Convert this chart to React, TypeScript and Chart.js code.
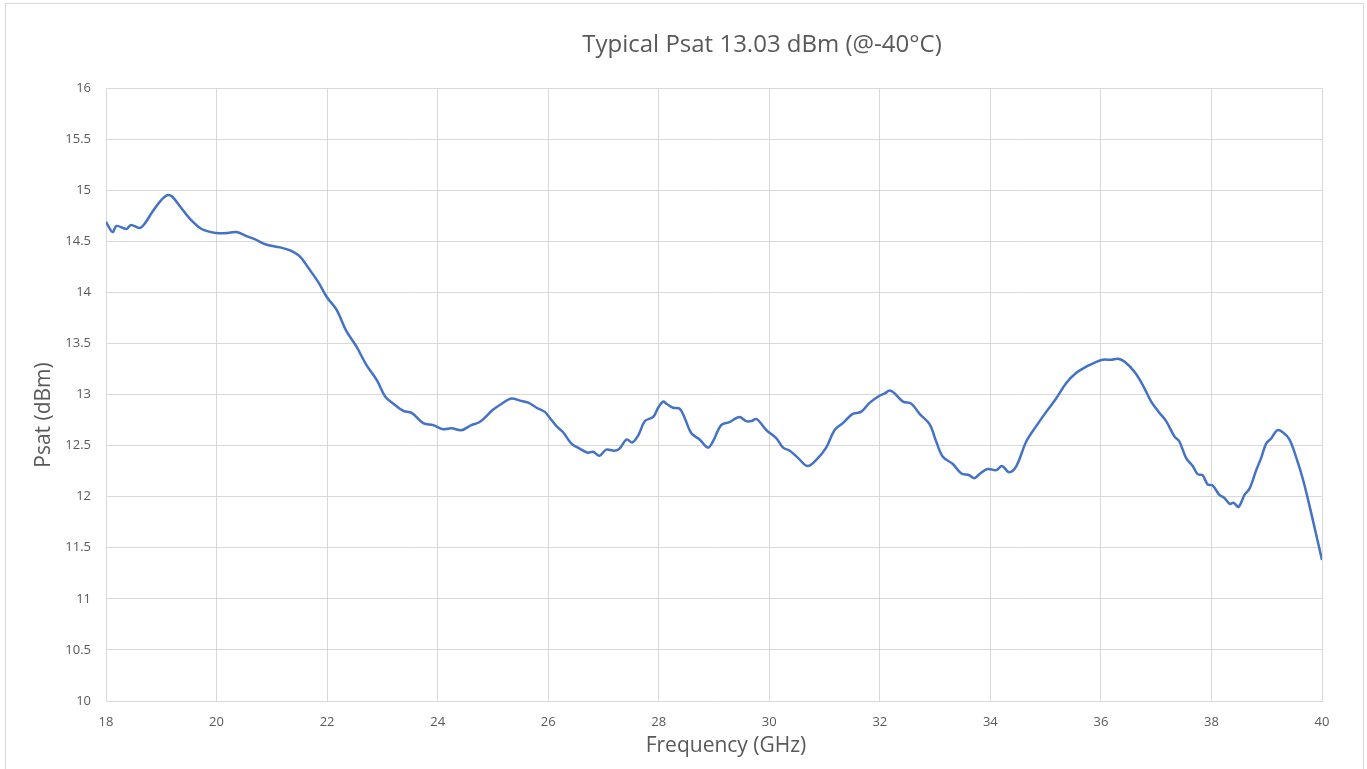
import React, { useEffect, useRef } from "react";
import { Chart, registerables } from "chart.js";

Chart.register(...registerables);

const frequencyGHz = [
  18.0, 18.12, 18.19, 18.37, 18.45, 18.61, 18.71, 18.83, 18.98, 19.1, 19.19, 19.34, 19.52, 19.73,
  20.0, 20.18, 20.36, 20.54, 20.69, 20.88, 21.15, 21.33, 21.51, 21.66, 21.84, 22.0, 22.17, 22.35,
  22.53, 22.71, 22.9, 23.05, 23.2, 23.38, 23.53, 23.74, 23.92, 24.1, 24.25, 24.43, 24.61, 24.76,
  25.0, 25.16, 25.33, 25.49, 25.64, 25.79, 25.94, 26.03, 26.15, 26.27, 26.42, 26.57, 26.72, 26.81,
  26.93, 27.05, 27.2, 27.29, 27.42, 27.52, 27.63, 27.75, 27.9, 27.99, 28.08, 28.14, 28.26, 28.38,
  28.47, 28.59, 28.74, 28.89, 28.98, 29.13, 29.28, 29.46, 29.58, 29.68, 29.77, 29.95, 30.13, 30.25,
  30.37, 30.52, 30.69, 30.85, 31.03, 31.18, 31.33, 31.51, 31.66, 31.82, 32.0, 32.09, 32.18, 32.27,
  32.42, 32.57, 32.72, 32.9, 33.02, 33.14, 33.32, 33.47, 33.62, 33.71, 33.8, 33.95, 34.11, 34.21,
  34.34, 34.47, 34.65, 34.83, 35.01, 35.19, 35.37, 35.55, 35.76, 35.88, 36.03, 36.19, 36.31, 36.43,
  36.61, 36.76, 36.91, 37.06, 37.18, 37.33, 37.42, 37.54, 37.66, 37.75, 37.84, 37.93, 38.02, 38.14,
  38.23, 38.33, 38.4, 38.49, 38.6, 38.69, 38.81, 38.9, 38.99, 39.08, 39.19, 39.29, 39.41, 39.53,
  39.65, 39.77, 39.89, 40.0,
];

const psatDbm = [
  14.69, 14.59, 14.65, 14.62, 14.66, 14.63, 14.68, 14.78, 14.89, 14.95, 14.94, 14.84, 14.72, 14.62,
  14.58, 14.58, 14.59, 14.55, 14.52, 14.47, 14.44, 14.41, 14.35, 14.24, 14.1, 13.95, 13.83, 13.62,
  13.47, 13.29, 13.14, 12.98, 12.91, 12.84, 12.82, 12.72, 12.7, 12.66, 12.67, 12.65, 12.7, 12.73,
  12.85, 12.91, 12.96, 12.94, 12.92, 12.87, 12.83, 12.77, 12.69, 12.63, 12.52, 12.47, 12.43, 12.44,
  12.4, 12.46, 12.45, 12.47, 12.56, 12.53, 12.6, 12.74, 12.78, 12.87, 12.93, 12.91, 12.87, 12.86,
  12.77, 12.62, 12.56, 12.48, 12.54, 12.7, 12.73, 12.78, 12.74, 12.74, 12.76, 12.65, 12.57, 12.48,
  12.45, 12.38, 12.3, 12.36, 12.48, 12.65, 12.72, 12.81, 12.83, 12.92, 12.99, 13.01, 13.04, 13.01,
  12.93, 12.91, 12.81, 12.71, 12.54, 12.39, 12.32, 12.23, 12.21, 12.18, 12.22, 12.27, 12.26, 12.3,
  12.24, 12.3, 12.54, 12.69, 12.83, 12.96, 13.11, 13.21, 13.28, 13.31, 13.34, 13.34, 13.35, 13.32,
  13.22, 13.09, 12.93, 12.82, 12.74, 12.59, 12.54, 12.38, 12.3, 12.22, 12.21, 12.12, 12.11, 12.02,
  11.99, 11.93, 11.94, 11.9, 12.02, 12.08, 12.26, 12.38, 12.52, 12.57, 12.65, 12.63, 12.56, 12.39,
  12.18, 11.92, 11.64, 11.38,
];

const xTickValues = [18, 20, 22, 24, 26, 28, 30, 32, 34, 36, 38, 40];
const xTickLabels = ["18", "20", "22", "24", "26", "28", "30", "32", "34", "36", "38", "40"];
const yTickValues = [10, 10.5, 11, 11.5, 12, 12.5, 13, 13.5, 14, 14.5, 15, 15.5, 16];
const yTickLabels = ["10", "10.5", "11", "11.5", "12", "12.5", "13", "13.5", "14", "14.5", "15", "15.5", "16"];

const chartTitle = "Typical Psat 13.03 dBm (@-40°C)";
const xAxisTitle = "Frequency (GHz)";
const yAxisTitle = "Psat (dBm)";

const FONT = '"Open Sans", "DejaVu Sans", sans-serif';
const TEXT_COLOR = "#595959";
const GRID_COLOR = "#d9d9d9";

export default function App() {
  const canvasRef = useRef<HTMLCanvasElement | null>(null);

  useEffect(() => {
    const canvas = canvasRef.current;
    if (!canvas) return;

    const titlesPlugin = {
      id: "fixedTitles",
      afterDraw(chart: any) {
        const ctx = chart.ctx as CanvasRenderingContext2D;
        ctx.save();
        ctx.fillStyle = TEXT_COLOR;
        ctx.textAlign = "center";
        ctx.textBaseline = "middle";
        ctx.font = `24px ${FONT}`;
        ctx.fillText(chartTitle, 762, 45);
        ctx.font = `21px ${FONT}`;
        ctx.fillText(xAxisTitle, 726, 746);
        ctx.translate(44, 415);
        ctx.rotate(-Math.PI / 2);
        ctx.fillText(yAxisTitle, 0, 0);
        ctx.restore();
      },
    };

    const chart = new Chart(canvas, {
      type: "line",
      data: {
        datasets: [
          {
            label: "Psat",
            data: frequencyGHz.map((f, i) => ({ x: f, y: psatDbm[i] })),
            borderColor: "#4472C4",
            backgroundColor: "#4472C4",
            borderWidth: 2.5,
            pointRadius: 0,
            tension: 0.35,
            fill: false,
          },
        ],
      },
      options: {
        responsive: false,
        animation: false,
        devicePixelRatio: 1,
        layout: { padding: { top: 88, right: 45, bottom: 0, left: 0 } },
        plugins: {
          legend: { display: false },
          tooltip: { enabled: false },
          title: { display: false },
        },
        scales: {
          x: {
            type: "linear",
            min: 18,
            max: 40,
            afterBuildTicks: (s: any) => {
              s.ticks = xTickValues.map((v) => ({ value: v }));
            },
            afterFit: (s: any) => {
              s.height = 68;
            },
            grid: { color: GRID_COLOR, lineWidth: 1, drawTicks: false },
            border: { color: GRID_COLOR, width: 1 },
            ticks: {
              padding: 13,
              color: TEXT_COLOR,
              font: { family: FONT, size: 13 },
              maxRotation: 0,
              autoSkip: false,
              callback: (_v: any, i: number) => xTickLabels[i],
            },
          },
          y: {
            type: "linear",
            min: 10,
            max: 16,
            afterBuildTicks: (s: any) => {
              s.ticks = yTickValues.map((v) => ({ value: v }));
            },
            afterFit: (s: any) => {
              s.width = 106;
            },
            grid: { color: GRID_COLOR, lineWidth: 1, drawTicks: false },
            border: { color: GRID_COLOR, width: 1 },
            ticks: {
              padding: 15,
              color: TEXT_COLOR,
              font: { family: FONT, size: 13 },
              autoSkip: false,
              callback: (_v: any, i: number) => yTickLabels[i],
            },
          },
        },
      },
      plugins: [titlesPlugin],
    });

    return () => {
      chart.destroy();
    };
  }, []);

  return (
    <div
      style={{
        position: "absolute",
        left: 0,
        top: 0,
        width: 1367,
        height: 769,
        overflow: "hidden",
        background: "#ffffff",
      }}
    >
      <div
        style={{
          position: "absolute",
          left: 5,
          top: 3,
          width: 1359,
          height: 800,
          border: "1px solid #d9d9d9",
          boxSizing: "border-box",
        }}
      />
      <canvas
        ref={canvasRef}
        width={1367}
        height={769}
        style={{ position: "absolute", left: 0, top: 0, width: 1367, height: 769 }}
      />
    </div>
  );
}
